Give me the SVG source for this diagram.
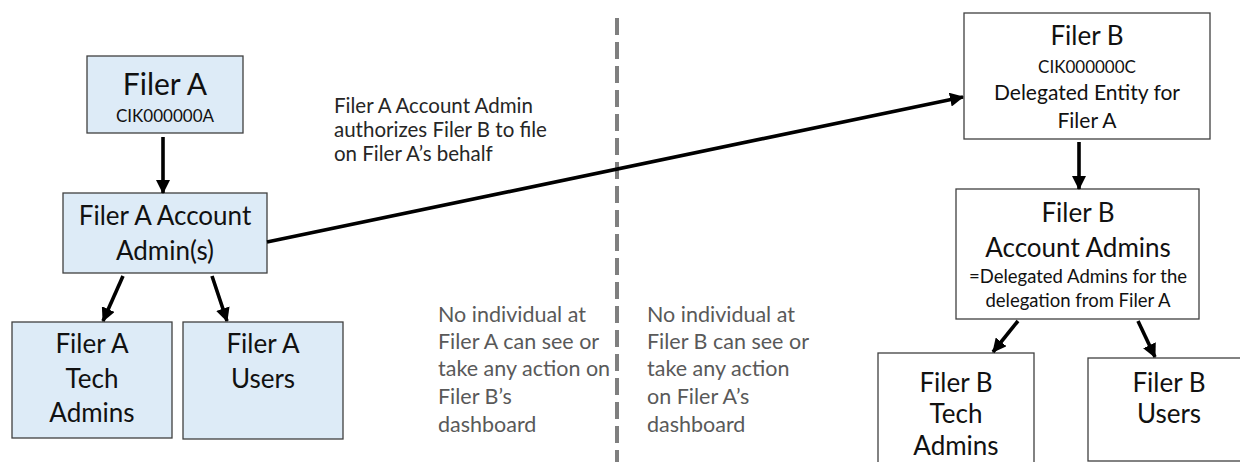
<svg xmlns="http://www.w3.org/2000/svg" width="1240" height="462" viewBox="0 0 1240 462">
<defs>
<marker id="ah" markerUnits="userSpaceOnUse" markerWidth="14" markerHeight="14" refX="13" refY="7" orient="auto">
<path d="M0,0 L14,7 L0,14 z" fill="#000"/>
</marker>
<style>
.ba{fill:#DDEBF7;stroke:#404040;stroke-width:1.3}
.bw{fill:#fff;stroke:#404040;stroke-width:1.3}
text{font-family:Lato,"Open Sans","Liberation Sans",sans-serif;fill:#111}
.c{text-anchor:middle}
.lbl{fill:#262626;font-size:20.5px}
.note{fill:#595959;font-size:21.5px}
.ar{stroke:#000;stroke-width:3.6;fill:none;marker-end:url(#ah)}
</style>
</defs>
<rect width="1240" height="462" fill="#fff"/>
<line x1="617" y1="18" x2="617" y2="462" stroke="#7f7f7f" stroke-width="4" stroke-dasharray="17 7"/>
<g id="filerA">
<rect class="ba" x="87" y="56" width="156" height="77"/>
<text class="c" x="165" y="95" font-size="30">Filer A</text>
<text class="c" x="165" y="122" font-size="17">CIK000000A</text>
</g>
<g id="filerA-admin">
<rect class="ba" x="63" y="193" width="204" height="80"/>
<text class="c" x="165" y="225" font-size="26">Filer A Account</text>
<text class="c" x="165" y="260" font-size="26">Admin(s)</text>
</g>
<g id="filerA-tech">
<rect class="ba" x="12" y="322" width="160" height="116"/>
<text class="c" x="92" y="353" font-size="26">Filer A</text>
<text class="c" x="92" y="388" font-size="26">Tech</text>
<text class="c" x="92" y="422" font-size="26">Admins</text>
</g>
<g id="filerA-users">
<rect class="ba" x="183" y="322" width="160" height="117"/>
<text class="c" x="263" y="353" font-size="26">Filer A</text>
<text class="c" x="263" y="388" font-size="26">Users</text>
</g>
<g id="filerB">
<rect class="bw" x="964" y="13" width="246" height="126"/>
<text class="c" x="1087" y="45" font-size="26">Filer B</text>
<text class="c" x="1087" y="73" font-size="17">CIK000000C</text>
<text class="c" x="1087" y="100" font-size="21">Delegated Entity for</text>
<text class="c" x="1087" y="128" font-size="21">Filer A</text>
</g>
<g id="filerB-admin">
<rect class="bw" x="956" y="189" width="243" height="130"/>
<text class="c" x="1078" y="222" font-size="26">Filer B</text>
<text class="c" x="1078" y="257" font-size="26">Account Admins</text>
<text class="c" x="1078" y="283" font-size="18.5">=Delegated Admins for the</text>
<text class="c" x="1078" y="307" font-size="18.5">delegation from Filer A</text>
</g>
<g id="filerB-tech">
<rect class="bw" x="878" y="353" width="156" height="120"/>
<text class="c" x="956" y="392" font-size="26">Filer B</text>
<text class="c" x="956" y="423" font-size="26">Tech</text>
<text class="c" x="956" y="455" font-size="26">Admins</text>
</g>
<g id="filerB-users">
<rect class="bw" x="1088" y="358" width="162" height="103"/>
<text class="c" x="1169" y="392" font-size="26">Filer B</text>
<text class="c" x="1169" y="423" font-size="26">Users</text>
</g>
<g id="label-authorize">
<text class="lbl" x="334" y="113">Filer A Account Admin</text>
<text class="lbl" x="334" y="137">authorizes Filer B to file</text>
<text class="lbl" x="334" y="161">on Filer A’s behalf</text>
</g>
<g id="note-A">
<text class="note" x="438" y="322">No individual at</text>
<text class="note" x="438" y="349">Filer A can see or</text>
<text class="note" x="438" y="376">take any action on</text>
<text class="note" x="438" y="404">Filer B’s</text>
<text class="note" x="438" y="432">dashboard</text>
</g>
<g id="note-B">
<text class="note" x="647" y="322">No individual at</text>
<text class="note" x="647" y="349">Filer B can see or</text>
<text class="note" x="647" y="376">take any action</text>
<text class="note" x="647" y="404">on Filer A’s</text>
<text class="note" x="647" y="432">dashboard</text>
</g>
<g id="connectors">
<line class="ar" x1="163" y1="137" x2="163" y2="193"/>
<line class="ar" x1="123" y1="276" x2="103" y2="321"/>
<line class="ar" x1="212" y1="276" x2="227" y2="321"/>
<line class="ar" x1="267" y1="242" x2="963" y2="97" stroke-width="4"/>
<line class="ar" x1="1079" y1="142" x2="1079" y2="189"/>
<line class="ar" x1="1018" y1="321" x2="993" y2="352"/>
<line class="ar" x1="1138" y1="321" x2="1155" y2="357"/>
</g>
</svg>
